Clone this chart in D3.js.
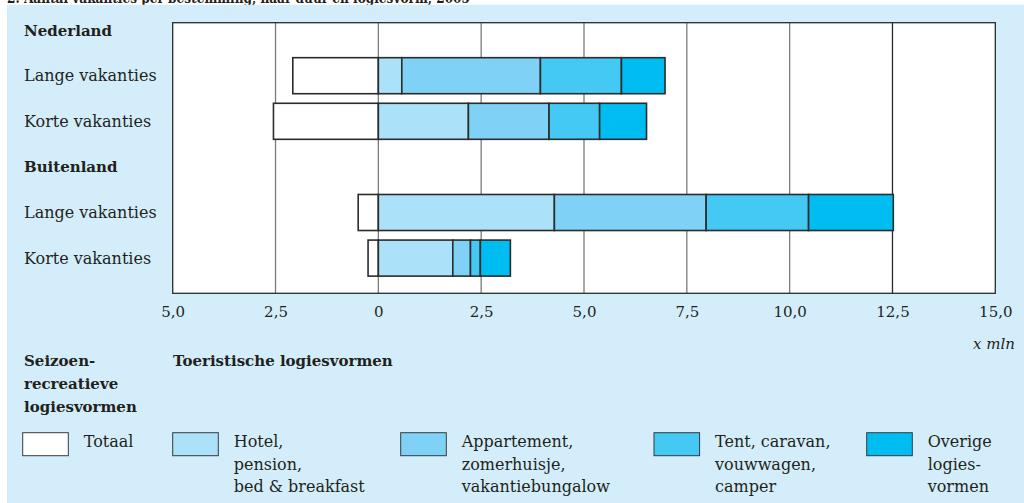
<!DOCTYPE html>
<html>
<head>
<meta charset="utf-8">
<script src="https://cdn.jsdelivr.net/npm/d3@7"></script>
<style>
  body { margin: 0; background: #fff; }
  text { font-family: "DejaVu Serif", serif; fill: #231f20; }
</style>
</head>
<body>
<div id="chart"></div>
<script>
// rows of the chart, top to bottom (headers have no bars)
var rowLabels = ["Nederland", "Lange vakanties", "Korte vakanties", "Buitenland", "Lange vakanties", "Korte vakanties"];
var headerRows = [0, 3];
var barRows = [1, 2, 4, 5];

// x mln vakanties per row with bars
var seizoen = [2.08, 2.55, 0.49, 0.25];      // drawn to the left of 0
var hotel = [0.57, 2.19, 4.28, 1.81];
var appartement = [3.37, 1.96, 3.69, 0.43];
var tent = [1.97, 1.23, 2.49, 0.24];
var overige = [1.06, 1.14, 2.06, 0.73];

var tickValues = [-5, -2.5, 0, 2.5, 5, 7.5, 10, 12.5, 15];

var colors = ["#ffffff", "#abe1f9", "#7fd2f5", "#43c9f4", "#00bdf1"];
var legendLabels = [
    ["Totaal"],
    ["Hotel,", "pension,", "bed & breakfast"],
    ["Appartement,", "zomerhuisje,", "vakantiebungalow"],
    ["Tent, caravan,", "vouwwagen,", "camper"],
    ["Overige", "logies-", "vormen"]
];

var width = 1024, height = 503;
var plot = {left: 172.7, right: 995.3, top: 22.7, bottom: 293.3};

var svg = d3.select("#chart")
    .append("svg")
    .attr("width", width)
    .attr("height", height);

// title, mostly cut off at the top of the picture
svg.append("text")
    .attr("x", 7)
    .attr("y", 2.5)
    .attr("font-size", 15)
    .attr("font-weight", "bold")
    .attr("textLength", 463)
    .attr("lengthAdjust", "spacingAndGlyphs")
    .text("2. Aantal vakanties per bestemming, naar duur en logiesvorm, 2005");

svg.append("rect")
    .attr("x", 7).attr("y", 4.7)
    .attr("width", width - 7).attr("height", height - 4.7)
    .attr("fill", "#d3eefa");

var x = d3.scaleLinear().domain([-5, 15]).range([plot.left, plot.right]);
var y = d3.scaleBand()
    .domain(d3.range(rowLabels.length))
    .range([7.3, 280.9])
    .paddingInner(0.21)
    .paddingOuter(0.105);

svg.append("rect")
    .attr("x", plot.left).attr("y", plot.top)
    .attr("width", plot.right - plot.left).attr("height", plot.bottom - plot.top)
    .attr("fill", "#fff");

// grid lines
svg.selectAll(".grid")
    .data(tickValues.slice(1, -1))
    .enter()
    .append("line")
    .attr("class", "grid")
    .attr("x1", function(d) { return x(d); })
    .attr("x2", function(d) { return x(d); })
    .attr("y1", plot.top)
    .attr("y2", plot.bottom)
    .attr("stroke", function(d) { return d == 12.5 ? "#2b2b2b" : "#7a7a7a"; })
    .attr("stroke-width", 1.3);

// stacked segments: seizoen to the left, the rest stacked from 0
var series = [seizoen, hotel, appartement, tent, overige];
var segments = [];
barRows.forEach(function(row, i) {
    segments.push({row: row, x0: -seizoen[i], x1: 0, c: 0});
    var acc = 0;
    for (var s = 1; s < series.length; s++) {
        segments.push({row: row, x0: acc, x1: acc + series[s][i], c: s});
        acc += series[s][i];
    }
});

svg.selectAll(".seg")
    .data(segments)
    .enter()
    .append("rect")
    .attr("class", "seg")
    .attr("x", function(d) { return x(d.x0); })
    .attr("y", function(d) { return y(d.row); })
    .attr("width", function(d) { return x(d.x1) - x(d.x0); })
    .attr("height", y.bandwidth())
    .attr("fill", function(d) { return colors[d.c]; })
    .attr("stroke", "#2b2b2b")
    .attr("stroke-width", 1.6);

svg.append("rect")
    .attr("x", plot.left).attr("y", plot.top)
    .attr("width", plot.right - plot.left).attr("height", plot.bottom - plot.top)
    .attr("fill", "none")
    .attr("stroke", "#2b2b2b")
    .attr("stroke-width", 1.3);

// row labels
svg.selectAll(".rowlabel")
    .data(rowLabels)
    .enter()
    .append("text")
    .attr("class", "rowlabel")
    .attr("x", 24)
    .attr("y", function(d, i) { return y(i) + y.bandwidth() / 2 + 5.5; })
    .attr("font-size", function(d, i) { return headerRows.indexOf(i) >= 0 ? 15 : 16; })
    .attr("font-weight", function(d, i) { return headerRows.indexOf(i) >= 0 ? "bold" : "normal"; })
    .text(function(d) { return d; });

// x axis
var fmt = function(d) { return d == 0 ? "0" : d3.format(".1f")(Math.abs(d)).replace(".", ","); };
var axis = svg.append("g")
    .attr("transform", "translate(0," + plot.bottom + ")")
    .call(d3.axisBottom(x).tickValues(tickValues).tickSize(0).tickPadding(13).tickFormat(fmt));
axis.select(".domain").remove();
axis.selectAll("text")
    .attr("font-family", "DejaVu Serif")
    .attr("font-size", 15)
    .attr("fill", "#231f20");

svg.append("text")
    .attr("x", 1015)
    .attr("y", 349)
    .attr("text-anchor", "end")
    .attr("font-size", 15)
    .attr("font-style", "italic")
    .text("x mln");

// legend headings
var seizoenHead = ["Seizoen-", "recreatieve", "logiesvormen"];
svg.selectAll(".shead")
    .data(seizoenHead)
    .enter()
    .append("text")
    .attr("x", 24)
    .attr("y", function(d, i) { return 366 + i * 23; })
    .attr("font-size", 15)
    .attr("font-weight", "bold")
    .text(function(d) { return d; });

svg.append("text")
    .attr("x", 173)
    .attr("y", 366)
    .attr("font-size", 15)
    .attr("font-weight", "bold")
    .text("Toeristische logiesvormen");

// legend items
var legendX = [22.7, 172.7, 400.7, 654, 866.7];
var item = svg.selectAll(".legend")
    .data(legendLabels)
    .enter()
    .append("g")
    .attr("class", "legend")
    .attr("transform", function(d, i) { return "translate(" + legendX[i] + ",0)"; });

item.append("rect")
    .attr("x", 0).attr("y", 432.7)
    .attr("width", 45.6).attr("height", 23)
    .attr("fill", function(d, i) { return colors[i]; })
    .attr("stroke", "#3a3a3a")
    .attr("stroke-width", 1);

item.each(function(lines) {
    d3.select(this).selectAll("text")
        .data(lines)
        .enter()
        .append("text")
        .attr("x", 61)
        .attr("y", function(d, i) { return 447 + i * 22.5; })
        .attr("font-size", 16)
        .text(function(d) { return d; });
});
</script>
</body>
</html>
